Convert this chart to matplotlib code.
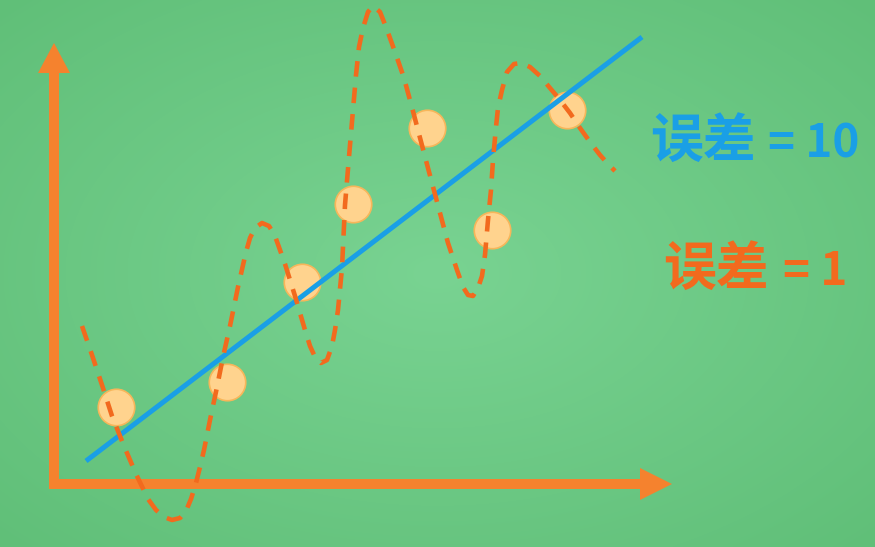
import numpy as np
import matplotlib
matplotlib.use("Agg")
import matplotlib.pyplot as plt
from matplotlib.patches import FancyArrow

# ---------------------------------------------------------------- data ---- #
# sample points (the yellow dots)
point_x = [6.2, 17.3, 24.8, 29.9, 37.3, 43.8, 51.3]
point_y = [7.7, 10.2, 20.2, 28.0, 35.6, 25.4, 37.4]

# straight fit (blue), end points
fit_x = [3.2, 58.8]
fit_y = [2.3, 44.7]

# over-fitted curve (orange dashes)
curve_x = [2.8, 3.8, 4.8, 5.8, 7.0, 8.2, 9.4, 10.2, 11.0, 11.8, 12.6, 13.2,
           13.7, 14.2, 14.6, 15.0, 15.6, 16.3, 16.9, 17.6, 18.4, 19.2, 19.6,
           20.1, 20.8, 21.5, 22.1, 23.1, 24.1, 25.1, 25.6, 26.1, 26.7, 27.3,
           27.8, 28.1, 28.4, 28.8, 29.1, 29.5, 29.9, 30.2, 30.5, 30.9, 31.4,
           31.9, 32.6, 33.2, 34.1, 35.0, 36.0, 37.0, 38.2, 39.4, 40.3, 40.9,
           41.4, 41.9, 42.4, 42.8, 43.1, 43.4, 43.7, 43.9, 44.2, 44.4, 44.8,
           45.3, 46.0, 46.7, 47.6, 48.6, 49.6, 50.6, 51.6, 52.6, 53.6, 54.6,
           55.4, 56.1]
curve_y = [15.8, 12.9, 9.9, 6.8, 3.8, 1.0, -1.5, -2.6, -3.3, -3.6, -3.4, -2.7,
           -1.5, 0.1, 1.7, 3.4, 6.4, 9.7, 12.7, 15.8, 19.7, 23.2, 24.6,
           25.6, 26.1, 25.8, 24.8, 22.0, 18.8, 15.4, 13.8, 12.7, 12.1, 12.4,
           13.8, 15.4, 17.4, 21.6, 27.9, 32.7, 37.4, 40.9, 43.7, 45.6, 47.2,
           47.8, 47.2, 45.7, 43.2, 40.6, 36.9, 33.1, 28.6, 24.1, 21.4, 19.7,
           18.9, 18.8, 19.6, 20.8, 22.9, 26.4, 29.4, 32.4, 35.7, 37.6, 39.4,
           41.2, 42.0, 42.1, 41.7, 40.8, 39.6, 38.4, 37.1, 35.6, 34.2, 32.9,
           32.0, 31.3]

X_END = 61.8   # tip of the horizontal arrow
Y_END = 44.1   # tip of the vertical arrow

label_word = ["误差", "误差"]
label_value = ["= 10", "= 1"]
word_x = [59.6, 60.9]
value_x = [71.4, 72.9]
label_base = [32.7, 19.9]

# -------------------------------------------------------------- styles ---- #
ORANGE = "#F5822E"
DASH_ORANGE = "#F26A1E"
BLUE = "#1A9FE6"
DOT_FILL = "#FFD38E"
DOT_EDGE = "#F7B65A"
FONT = ["Noto Sans CJK SC", "DejaVu Sans"]

fig = plt.figure(figsize=(8.75, 5.47), dpi=100)

# green background, lighter in the middle
bg = fig.add_axes([0, 0, 1, 1])
gy, gx = np.mgrid[-1:1:300j, -1:1:480j]
r = np.clip(np.sqrt(gx ** 2 + gy ** 2) / 1.42, 0, 1)
c_in = np.array([121, 211, 146]) / 255
c_out = np.array([96, 191, 120]) / 255
bg.imshow(c_in + (c_out - c_in) * r[..., None], aspect="auto",
          interpolation="bilinear")
bg.axis("off")

ax = fig.add_axes([0, 0, 1, 1])
ax.set_xlim(-5.4, 82.1)
ax.set_ylim(-6.3, 48.4)
ax.axis("off")
ax.patch.set_alpha(0)

# axes arrows
ax.add_patch(FancyArrow(0, -0.5, 0, Y_END + 0.5, width=1.0, head_width=3.2,
                        head_length=3.0, length_includes_head=True,
                        color=ORANGE, lw=0, zorder=2))
ax.add_patch(FancyArrow(-0.1, 0, X_END + 0.1, 0, width=1.0, head_width=3.2,
                        head_length=3.2, length_includes_head=True,
                        color=ORANGE, lw=0, zorder=2))

ax.scatter(point_x, point_y, s=690, color=DOT_FILL, edgecolor=DOT_EDGE,
           linewidth=1.2, zorder=3)
ax.plot(fit_x, fit_y, color=BLUE, lw=3.6, solid_capstyle="butt", zorder=4)
ax.plot(curve_x, curve_y, color=DASH_ORANGE, lw=3.3, dashes=(3.4, 2.4),
        dash_capstyle="butt", zorder=5)

for word, value, wx, vx, yb, col in zip(label_word, label_value, word_x,
                                        value_x, label_base,
                                        [BLUE, DASH_ORANGE]):
    ax.text(wx, yb, word, color=col, fontsize=38, fontweight="bold",
            family=FONT, ha="left", va="baseline", zorder=6)
    ax.text(vx, yb, value, color=col, fontsize=33, fontweight="bold",
            family=FONT, ha="left", va="baseline", zorder=6)

fig.savefig("out.png", dpi=100)
